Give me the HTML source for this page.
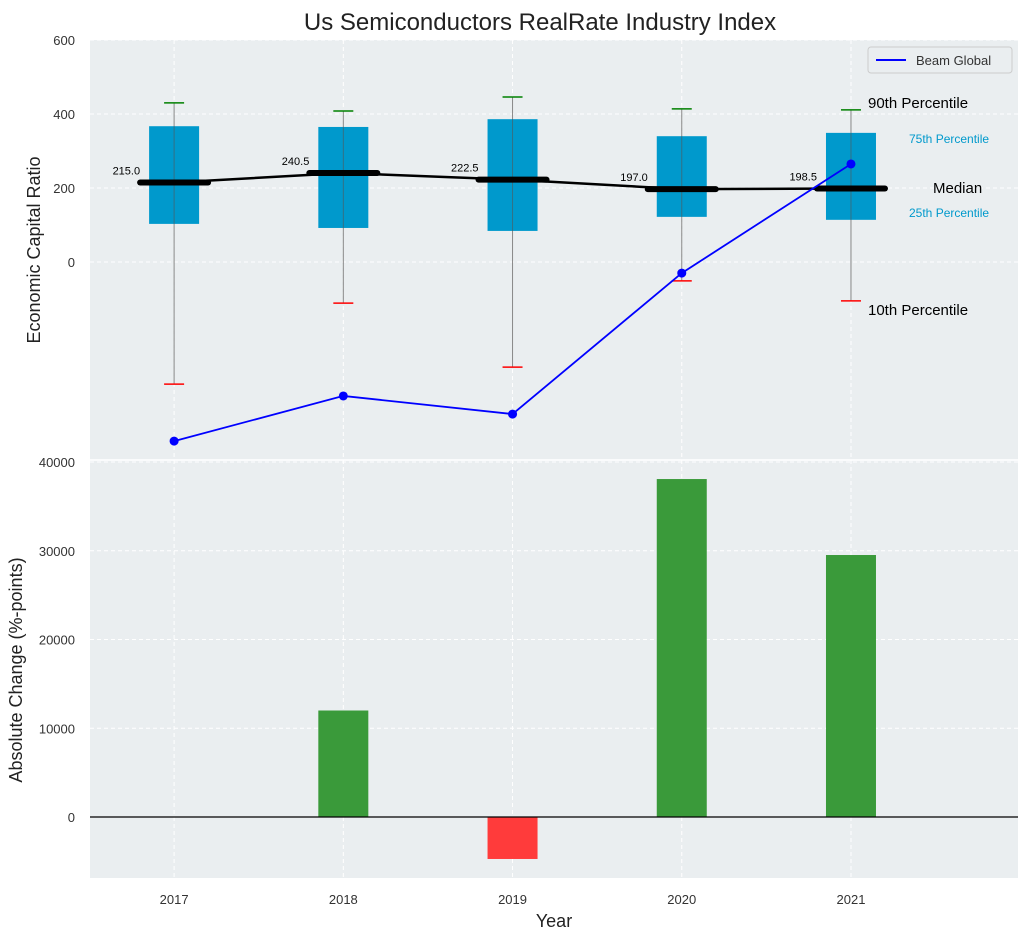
<!DOCTYPE html>
<html><head><meta charset="utf-8"><style>
body{margin:0;background:#fff;}
svg{font-family:"Liberation Sans","DejaVu Sans",sans-serif;}
</style></head><body>
<svg id="chart" width="1029" height="940" xmlns="http://www.w3.org/2000/svg"></svg>
<script>
const years=[2017,2018,2019,2020,2021];
const q10=[-330,-111,-284,-51,-105];
const q25=[103,92,84,122,114];
const medians=[215.0,240.5,222.5,197.0,198.5];
const q75=[367,365,386,340,349];
const q90=[430,408,446,414,411];
const beam=[-484,-362,-411,-30,265];
const changes=[0,12000,-4730,38080,29520];
const topTicks=[0,200,400,600];
const botTicks=[0,10000,20000,30000,40000];

const svg=document.getElementById('chart');
const NS='http://www.w3.org/2000/svg';
function el(tag,attrs,parent,text){const e=document.createElementNS(NS,tag);for(const k in attrs)e.setAttribute(k,attrs[k]);if(text!==undefined)e.textContent=text;(parent||svg).appendChild(e);return e;}
const L=90,R=1018;
const X0=2016.503,X1=2021.987;
const x=v=>L+(v-X0)/(X1-X0)*(R-L);
const yT=v=>262-v*0.37;
const yB=v=>817-v*0.008875;

let t=el('text',{x:540,y:30,'font-size':24,'text-anchor':'middle',fill:'#222'},svg,'Us Semiconductors RealRate Industry Index');


let p1=el('rect',{x:L,y:40,width:R-L,height:420,fill:'#eaeef0'});

let p2=el('rect',{x:L,y:460,width:R-L,height:418,fill:'#eaeef0'});

el('line',{x1:L,x2:R,y1:460,y2:460,stroke:'#fff','stroke-width':1.5});

topTicks.forEach(v=>{
  el('line',{x1:L,x2:R,y1:yT(v),y2:yT(v),stroke:'#fff','stroke-dasharray':'4,3'});
  let tt=el('text',{x:75,y:yT(v)+5,'font-size':13,'text-anchor':'end',fill:'#333'},svg,v);
  
});
botTicks.forEach(v=>{
  el('line',{x1:L,x2:R,y1:yB(v),y2:yB(v),stroke:'#fff','stroke-dasharray':'4,3'});
  let tt=el('text',{x:75,y:yB(v)+5,'font-size':13,'text-anchor':'end',fill:'#333'},svg,v);
  
});
years.forEach(yr=>{
  el('line',{x1:x(yr),x2:x(yr),y1:40,y2:878,stroke:'#fff','stroke-dasharray':'4,3'});
  let tt=el('text',{x:x(yr),y:904,'font-size':13,'text-anchor':'middle',fill:'#333'},svg,yr);
  
});

years.forEach((yr,i)=>{
  const cx=x(yr);
  el('line',{x1:cx,x2:cx,y1:yT(q90[i]),y2:yT(q10[i]),stroke:'#888','stroke-width':1});
  let b=el('rect',{x:cx-25,y:yT(q75[i]),width:50,height:yT(q25[i])-yT(q75[i]),fill:'#0099cc'});
  
  el('line',{x1:cx,x2:cx,y1:yT(q75[i]),y2:yT(q25[i]),stroke:'#555','stroke-width':1,opacity:0.6});
  el('line',{x1:cx-10,x2:cx+10,y1:yT(q90[i]),y2:yT(q90[i]),stroke:'green','stroke-width':1.5});
  el('line',{x1:cx-10,x2:cx+10,y1:yT(q10[i]),y2:yT(q10[i]),stroke:'red','stroke-width':1.5});
  let m=el('line',{x1:cx-34,x2:cx+34,y1:yT(medians[i]),y2:yT(medians[i]),stroke:'#000','stroke-width':6,'stroke-linecap':'round'});
  
  el('text',{x:cx-34,y:yT(medians[i])-8,'font-size':11,'text-anchor':'end',fill:'#000'},svg,medians[i].toFixed(1));
});
el('polyline',{points:years.map((yr,i)=>x(yr)+','+yT(medians[i])).join(' '),fill:'none',stroke:'#000','stroke-width':2.5});

let bl=el('polyline',{points:years.map((yr,i)=>x(yr)+','+yT(beam[i])).join(' '),fill:'none',stroke:'blue','stroke-width':1.8});

years.forEach((yr,i)=>{let c=el('circle',{cx:x(yr),cy:yT(beam[i]),r:4.5,fill:'blue'});});

const ann=[[868,108,'90th Percentile',15,'#000'],[909,143,'75th Percentile',12,'#0099cc'],[933,193,'Median',15,'#000'],[909,217,'25th Percentile',12,'#0099cc'],[868,315,'10th Percentile',15,'#000']];
ann.forEach(a=>{let e=el('text',{x:a[0],y:a[1],'font-size':a[3],fill:a[4]},svg,a[2]);});

let lg=el('g',{});
el('rect',{x:868,y:47,width:144,height:26,fill:'#eaeef0',stroke:'#ccc',rx:3},lg);
el('line',{x1:876,x2:906,y1:60,y2:60,stroke:'blue','stroke-width':2},lg);
el('text',{x:916,y:65,'font-size':13,fill:'#333'},lg,'Beam Global');

years.forEach((yr,i)=>{
  const v=changes[i];
  let b=el('rect',{x:x(yr)-25,y:Math.min(yB(v),yB(0)),width:50,height:Math.abs(yB(v)-yB(0)),fill:v>=0?'#3a9a3a':'#ff3b3b'});
  
});
el('line',{x1:L,x2:R,y1:yB(0),y2:yB(0),stroke:'#000','stroke-width':1.2});

let a1=el('text',{x:0,y:0,'font-size':18,'text-anchor':'middle',fill:'#222',transform:'translate(40,250) rotate(-90)'},svg,'Economic Capital Ratio');

let a2=el('text',{x:0,y:0,'font-size':18,'text-anchor':'middle',fill:'#222',transform:'translate(22,670) rotate(-90)'},svg,'Absolute Change (%-points)');

let a3=el('text',{x:554,y:927,'font-size':18,'text-anchor':'middle',fill:'#222'},svg,'Year');

</script>
</body></html>
